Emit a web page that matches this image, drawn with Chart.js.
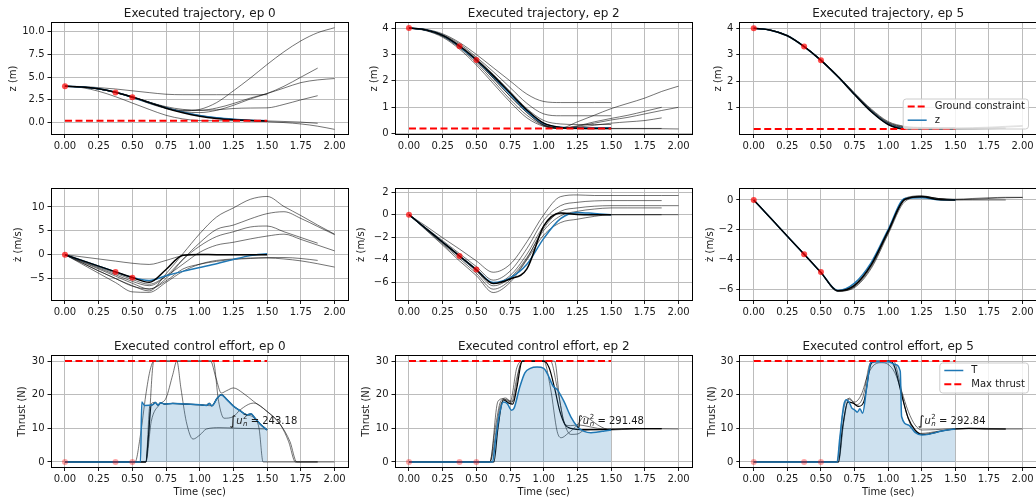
<!DOCTYPE html>
<html>
<head>
<meta charset="utf-8">
<script src="https://cdn.jsdelivr.net/npm/chart.js@4.4.0/dist/chart.umd.min.js"></script>
<style>
  html, body { margin: 0; padding: 0; background: #fff; }
  body { position: relative; width: 1036px; height: 498px; overflow: hidden; }
  .panel { position: absolute; }
</style>
</head>
<body>
<script>
// shared time grid for the state plots (s)
const TIME = [0, 0.125, 0.25, 0.375, 0.5, 0.625, 0.75, 0.875, 1.0, 1.125, 1.25, 1.375, 1.5, 1.625, 1.75, 1.875, 2.0];
const X_TICKS = [0, 0.25, 0.5, 0.75, 1.0, 1.25, 1.5, 1.75, 2.0];
const EPISODES = [0, 2, 5];

// observed key points (red dots)
const KEY_T = [0, 0.375, 0.5];
const KEY_Z = [4.0, 3.31, 2.79];
const KEY_ZDOT = [0, -3.65, -4.85];
const KEY_THRUST = [0, 0, 0];

// constraint lines
const LIMIT_T = [0, 1.5];
const GROUND_Z = [0.2, 0.2];
const MAX_THRUST = [30, 30];

const INTEGRALS = [243.18, 291.48, 292.84];

const Z_TICKS = [[0, 2.5, 5, 7.5, 10], [0, 1, 2, 3, 4], [1, 2, 3, 4]];
const ZDOT_TICKS = [[-5, 0, 5, 10], [-6, -4, -2, 0, 2], [-6, -4, -2, 0]];
const THRUST_TICKS = [0, 10, 20, 30];

// ---- z (m), ep 0 ----
const z0Blue = [4.0, 3.93, 3.72, 3.33, 2.78, 2.18, 1.62, 1.15, 0.78, 0.52, 0.36, 0.26, 0.2];
const z0Black = [4.0, 3.93, 3.72, 3.34, 2.8, 2.2, 1.58, 1.08, 0.7, 0.45, 0.3, 0.22, 0.18];
const z0Gray = [
  [4.0, 3.92, 3.7, 3.3, 2.75, 2.1, 1.55, 1.3, 1.45, 2.2, 3.5, 4.9, 6.4, 7.8, 9.0, 9.9, 10.45],
  [4.0, 3.92, 3.7, 3.32, 2.8, 2.2, 1.6, 1.2, 1.1, 1.35, 1.9, 2.6, 3.2, 4.0, 5.0, 6.0],
  [4.0, 3.92, 3.7, 3.32, 2.8, 2.2, 1.65, 1.35, 1.35, 1.6, 2.1, 2.7, 3.2, 3.8, 4.4, 4.7, 4.85],
  [4.0, 3.92, 3.7, 3.32, 2.8, 2.25, 1.75, 1.45, 1.35, 1.4, 1.55, 1.6, 1.62, 2.0, 2.5, 2.96],
  [4.0, 3.97, 3.85, 3.7, 3.5, 3.3, 3.12, 3.07, 3.07, 3.07, 3.07, 3.07, 3.07],
  [4.0, 3.85, 3.45, 2.85, 2.15, 1.45, 0.8, 0.4, 0.22, 0.2, 0.2, 0.2, 0.2],
  [4.0, 3.92, 3.72, 3.35, 2.85, 2.25, 1.65, 1.15, 0.75, 0.5, 0.35, 0.2, 0.1, 0.0, -0.15, -0.4, -0.75],
  [4.0, 3.92, 3.72, 3.35, 2.85, 2.25, 1.65, 1.15, 0.78, 0.52, 0.36, 0.25, 0.18, 0.12, 0.05, -0.08]
];

// ---- z (m), ep 2 ----
const z2Blue = [4.0, 3.93, 3.72, 3.3, 2.78, 2.17, 1.5, 0.85, 0.38, 0.25, 0.23, 0.23, 0.23];
const z2Black = [4.0, 3.93, 3.72, 3.32, 2.8, 2.2, 1.55, 0.9, 0.4, 0.24, 0.21, 0.2, 0.2];
const z2Gray = [
  [4.0, 3.95, 3.78, 3.45, 3.0, 2.5, 2.0, 1.5, 1.22, 1.18, 1.18, 1.18, 1.18],
  [4.0, 3.94, 3.75, 3.4, 2.9, 2.35, 1.75, 1.15, 0.75, 0.68, 0.68, 0.68, 0.68],
  [4.0, 3.93, 3.73, 3.35, 2.85, 2.25, 1.6, 0.95, 0.5, 0.37, 0.35, 0.35, 0.35],
  [4.0, 3.93, 3.72, 3.3, 2.78, 2.15, 1.5, 0.85, 0.35, 0.22, 0.45, 0.7, 0.95, 1.15, 1.35, 1.6, 1.8],
  [4.0, 3.93, 3.72, 3.3, 2.78, 2.15, 1.5, 0.85, 0.35, 0.22, 0.3, 0.45, 0.58, 0.7, 0.85, 1.0],
  [4.0, 3.92, 3.7, 3.28, 2.75, 2.1, 1.42, 0.8, 0.32, 0.2, 0.28, 0.4, 0.52, 0.62, 0.75, 0.88, 1.0],
  [4.0, 3.92, 3.7, 3.28, 2.75, 2.1, 1.42, 0.8, 0.32, 0.2, 0.25, 0.32, 0.4, 0.45, 0.5, 0.6],
  [4.0, 3.9, 3.65, 3.2, 2.6, 1.9, 1.2, 0.6, 0.28, 0.2, 0.19, 0.19, 0.19, 0.19, 0.19, 0.19, 0.18],
  [4.0, 3.91, 3.68, 3.25, 2.68, 2.0, 1.3, 0.7, 0.3, 0.2, 0.2, 0.2, 0.2, 0.2, 0.2, 0.2]
];

// ---- z (m), ep 5 ----
const z5Blue = [4.0, 3.93, 3.72, 3.31, 2.79, 2.18, 1.5, 0.86, 0.38, 0.21, 0.2, 0.2, 0.2];
const z5Black = [4.0, 3.93, 3.72, 3.31, 2.79, 2.18, 1.5, 0.85, 0.37, 0.2, 0.2, 0.2, 0.2];
const z5Gray = [
  [4.0, 3.93, 3.72, 3.32, 2.81, 2.21, 1.54, 0.92, 0.45, 0.28, 0.25, 0.24, 0.24, 0.25, 0.27, 0.3, 0.33],
  [4.0, 3.93, 3.72, 3.32, 2.8, 2.2, 1.53, 0.9, 0.43, 0.26, 0.23, 0.22, 0.22, 0.22, 0.23, 0.24],
  [4.0, 3.93, 3.72, 3.31, 2.8, 2.19, 1.52, 0.89, 0.41, 0.24, 0.22, 0.21, 0.21, 0.22, 0.24, 0.27, 0.3],
  [4.0, 3.93, 3.72, 3.31, 2.79, 2.19, 1.51, 0.88, 0.4, 0.23, 0.21, 0.2, 0.2, 0.2, 0.21, 0.22],
  [4.0, 3.93, 3.72, 3.32, 2.81, 2.22, 1.56, 0.95, 0.48, 0.3, 0.26, 0.25, 0.25]
];

// ---- z dot (m/s), ep 0 ----
const v0Blue = [0, -1.2, -2.4, -3.6, -4.8, -5.4, -4.4, -3.5, -2.7, -1.9, -1.0, -0.2, 0.2];
const v0Black = [0, -1.2, -2.4, -3.6, -4.8, -5.8, -3.1, -0.1, 0.05, 0.0, 0.0, 0.0, 0.0];
const v0Gray = [
  [0, -1.7, -3.4, -5.0, -6.5, -7.6, -4.0, 0.2, 4.4, 7.9, 9.8, 11.6, 12.2, 10.1, 8.2, 6.2, 4.3],
  [0, -1.5, -3.0, -4.5, -6.0, -7.2, -5.0, -1.0, 2.5, 5.3, 6.2, 7.5, 8.6, 9.0, 7.6, 5.9, 4.2],
  [0, -1.4, -2.8, -4.2, -5.6, -6.5, -4.5, -1.0, 1.8, 3.8, 4.8, 5.8, 6.0, 4.8, 3.6, 2.4],
  [0, -1.3, -2.6, -3.9, -5.2, -6.2, -4.5, -2.0, 0.5, 2.0, 2.6, 3.3, 3.9, 4.3, 3.2, 2.0, 0.8],
  [0, -0.45, -0.9, -1.35, -1.8, -2.05, -1.2, -0.2, 0.0, 0.0, 0.0, 0.0, 0.0],
  [0, -1.95, -3.9, -5.85, -7.8, -7.9, -5.8, -3.5, -2.0, -1.2, -0.9, -0.7, -0.7, -0.9, -1.3, -1.9, -2.6],
  [0, -1.7, -3.4, -5.0, -6.6, -7.2, -5.5, -3.0, -2.0, -1.4, -1.0, -0.8, -0.6, -0.6, -0.8, -1.2]
];

// ---- z dot (m/s), ep 2 ----
const v2Blue = [0, -1.22, -2.44, -3.66, -4.88, -6.0, -5.6, -4.4, -2.1, -0.35, 0.2, 0.1, 0.0];
const v2Black = [0, -1.22, -2.44, -3.66, -4.88, -6.1, -5.7, -4.8, -1.0, 0.15, 0.02, 0.0, 0.0];
const v2Gray = [
  [0, -1.0, -2.05, -3.05, -4.1, -5.1, -4.4, -2.4, 0.0, 1.6, 1.75, 1.7, 1.7, 1.7, 1.7, 1.7, 1.7],
  [0, -1.15, -2.3, -3.45, -4.6, -5.8, -5.0, -3.0, -0.5, 0.8, 1.1, 1.22, 1.25, 1.25, 1.25, 1.25],
  [0, -1.2, -2.4, -3.6, -4.8, -6.1, -5.4, -3.5, -1.0, 0.3, 0.6, 0.75, 0.8, 0.8, 0.8, 0.8, 0.8],
  [0, -1.25, -2.5, -3.75, -5.0, -6.3, -5.6, -3.8, -1.4, -0.1, 0.3, 0.5, 0.6, 0.6, 0.6, 0.6],
  [0, -1.35, -2.7, -4.1, -5.4, -6.9, -6.0, -4.0, -1.8, -0.7, -0.4, -0.15, 0.0, 0.0, 0.0, 0.0, 0.0],
  [0, -1.3, -2.6, -3.9, -5.2, -6.6, -5.8, -3.9, -1.2, 0.15, 0.05, 0.0, 0.0, 0.0, 0.0, 0.0]
];

// ---- z dot (m/s), ep 5 ----
const v5Blue = [0, -1.22, -2.44, -3.66, -4.88, -6.1, -5.6, -4.2, -2.0, 0.1, 0.15, 0.02, 0.0];
const v5Black = [0, -1.22, -2.44, -3.66, -4.88, -6.12, -5.75, -4.35, -2.1, 0.05, 0.22, 0.03, 0.0];
const v5Gray = [
  [0, -1.22, -2.44, -3.67, -4.9, -6.15, -5.85, -4.5, -2.2, 0.0, 0.25, 0.1, 0.05, 0.1, 0.15, 0.18, 0.18],
  [0, -1.22, -2.44, -3.66, -4.89, -6.13, -5.8, -4.4, -2.15, 0.05, 0.25, 0.08, 0.0, 0.0, 0.0, 0.0],
  [0, -1.22, -2.44, -3.66, -4.88, -6.1, -5.7, -4.3, -2.05, 0.12, 0.28, 0.08, 0.02, 0.05, 0.1, 0.15, 0.17],
  [0, -1.22, -2.44, -3.66, -4.89, -6.14, -5.9, -4.6, -2.3, -0.1, 0.2, 0.1, 0.02]
];

// ---- thrust (N), [t, value] pairs ----
const u0Blue = [[0, 0], [0.56, 0], [0.57, 17.8], [0.59, 16.8], [0.65, 17.0], [0.67, 17.7], [0.69, 16.9], [0.71, 17.6], [0.74, 17.2], [0.8, 17.4], [0.9, 17.2], [1.0, 17.0], [1.05, 16.8], [1.07, 17.4], [1.09, 16.7], [1.13, 19.0], [1.16, 20.0], [1.2, 18.6], [1.25, 16.6], [1.3, 15.2], [1.35, 14.0], [1.38, 14.3], [1.41, 13.0], [1.45, 11.2], [1.5, 9.5]];
const u0Black = [[0, 0], [0.6, 0], [0.62, 8], [0.64, 16.9], [0.65, 17.0], [0.67, 17.7], [0.69, 16.9], [0.71, 17.6], [0.74, 17.2], [0.8, 17.4], [0.9, 17.2], [1.0, 17.0], [1.05, 16.8], [1.07, 17.4], [1.09, 16.7], [1.13, 19.0], [1.16, 20.0], [1.2, 18.6], [1.25, 16.6], [1.3, 15.2], [1.35, 14.0], [1.38, 14.3], [1.41, 13.0], [1.45, 11.2], [1.5, 9.5]];
const u0Gray = [
  [[0, 0], [0.52, 0], [0.56, 8], [0.6, 20], [0.63, 27], [0.66, 30], [1.08, 30], [1.12, 25], [1.16, 20.5], [1.2, 21.2], [1.25, 22], [1.32, 20.5], [1.4, 18], [1.5, 15], [1.6, 11], [1.67, 6], [1.72, 0], [2.0, 0]],
  [[0, 0], [0.6, 0], [0.64, 12], [0.7, 17], [0.75, 19], [0.8, 26], [0.83, 30], [0.86, 22], [0.9, 12], [0.95, 6.8], [1.0, 8], [1.05, 9.8], [1.15, 10.2], [1.3, 10], [1.5, 9.8]],
  [[0, 0], [0.6, 0], [0.66, 30], [1.1, 30], [1.14, 18], [1.18, 13], [1.25, 13.5], [1.3, 15.5], [1.4, 17.5], [1.5, 15], [1.6, 11], [1.66, 6], [1.71, 0], [1.875, 0]],
  [[0, 0], [0.6, 0], [0.63, 16.8], [0.67, 17.7], [0.69, 16.9], [0.71, 17.6], [0.74, 17.2], [0.8, 17.4], [0.9, 17.2], [1.0, 17.0], [1.05, 16.8], [1.09, 16.7], [1.13, 19.0], [1.16, 20.0], [1.2, 18.6], [1.25, 16.6], [1.3, 15.2], [1.35, 14.0], [1.4, 13.2], [1.44, 10], [1.47, 0], [1.875, 0]]
];

const u2Blue = [[0, 0], [0.62, 0], [0.64, 6], [0.67, 14], [0.7, 17.8], [0.73, 17.3], [0.76, 15.4], [0.78, 16], [0.82, 22], [0.86, 26.5], [0.9, 27.8], [0.95, 28.2], [1.0, 27.8], [1.03, 26], [1.07, 22.5], [1.1, 21.5], [1.15, 18], [1.2, 13.5], [1.25, 10.5], [1.3, 9.1], [1.35, 8.7], [1.4, 8.9], [1.45, 9.2], [1.5, 9.5]];
const u2Black = [[0, 0], [0.63, 0], [0.66, 10], [0.7, 18.5], [0.74, 17.5], [0.77, 17.2], [0.8, 22], [0.84, 30], [1.0, 30], [1.04, 28], [1.08, 22], [1.12, 15], [1.16, 11], [1.2, 10], [1.3, 9.6], [1.5, 9.7], [1.7, 9.9], [1.875, 9.9]];
const u2Gray = [
  [[0, 0], [0.6, 0], [0.64, 10], [0.68, 18], [0.72, 19], [0.76, 17.5], [0.8, 25], [0.84, 30], [1.05, 30], [1.1, 22], [1.15, 12], [1.2, 8.2], [1.25, 8.3], [1.3, 9.4], [1.4, 9.6], [1.6, 9.9], [1.8, 9.9], [2.0, 9.8]],
  [[0, 0], [0.6, 0], [0.66, 18], [0.7, 18.8], [0.75, 17.8], [0.8, 28], [0.84, 30], [1.08, 30], [1.12, 18], [1.16, 11], [1.2, 10.8], [1.25, 11], [1.3, 10.8], [1.4, 10], [1.5, 9.7]],
  [[0, 0], [0.6, 0], [0.68, 17], [0.72, 18.5], [0.77, 18], [0.82, 28], [0.85, 30], [1.0, 30], [1.05, 22], [1.1, 9], [1.13, 7.2], [1.18, 8.5], [1.25, 11], [1.3, 13.5], [1.35, 12.5], [1.4, 11], [1.5, 9.5], [1.65, 9.8], [1.875, 9.9]]
];

const u5Blue = [[0, 0], [0.62, 0], [0.64, 7], [0.67, 17], [0.69, 18.5], [0.71, 17.8], [0.73, 16], [0.75, 15.5], [0.77, 14.8], [0.79, 15.8], [0.81, 14.5], [0.84, 22], [0.87, 29.5], [0.9, 29.8], [1.0, 29.8], [1.05, 29], [1.09, 27], [1.1, 13.5], [1.15, 11], [1.2, 8.8], [1.25, 8.0], [1.3, 8.2], [1.4, 9.2], [1.5, 9.8]];
const u5Black = [[0, 0], [0.63, 0], [0.66, 10], [0.7, 17.8], [0.74, 17.5], [0.78, 16.5], [0.82, 18], [0.87, 29], [0.9, 30], [1.02, 30], [1.05, 28], [1.1, 20], [1.15, 13], [1.2, 9.5], [1.25, 8.2], [1.3, 8.3], [1.4, 9.2], [1.5, 9.8], [1.6, 10], [1.75, 9.8], [1.875, 9.8]];
const u5Gray = [
  [[0, 0], [0.62, 0], [0.66, 14], [0.7, 18.8], [0.75, 17.8], [0.8, 20], [0.85, 26], [0.9, 29], [0.95, 29.5], [1.0, 29], [1.05, 26.5], [1.1, 21], [1.15, 15], [1.2, 11], [1.25, 9.5], [1.35, 9.6], [1.5, 9.9], [1.75, 9.8], [2.0, 9.8]],
  [[0, 0], [0.63, 0], [0.67, 12], [0.71, 19], [0.76, 17], [0.81, 19], [0.87, 29.5], [1.04, 30], [1.08, 25], [1.12, 17], [1.18, 10], [1.25, 8.5], [1.35, 9.0], [1.5, 9.8], [1.7, 10], [1.875, 9.8]]
];

// layout of the 3x3 grid (page px)
const COL_LEFT = [51.5, 395.5, 740.3];
const PLOT_W = 297.6;
const ROW_TOP = [23, 189.3, 356];
const ROW_H = [110.3, 110.7, 110.7];
const X_AXIS_H = [16, 16, 34];
const TITLE_H = 16.7;
const Y_AXIS_W = 50;

const BLUE = '#1f77b4';
const GRAY = 'rgba(0,0,0,0.55)';

Chart.defaults.font.family = '"DejaVu Sans", sans-serif';
Chart.defaults.font.size = 10;
Chart.defaults.color = '#1a1a1a';
Chart.defaults.animation = false;

const onGrid = vals => vals.map((v, i) => ({ x: TIME[i], y: v }));
const onPairs = pairs => pairs.map(([x, y]) => ({ x, y }));
const minus = s => s.replace('-', '\u2212');

const panels = [
  { row: 0, col: 0, title: 'Executed trajectory, ep ' + EPISODES[0], ylabel: 'z (m)', yMin: -1.26, yMax: 10.97, yTicks: Z_TICKS[0], dec: 1, labelOff: 38.2,
    blue: z0Blue, black: z0Black, gray: z0Gray, key: KEY_Z, limit: GROUND_Z },
  { row: 0, col: 1, title: 'Executed trajectory, ep ' + EPISODES[1], ylabel: 'z (m)', yMin: -0.01, yMax: 4.19, yTicks: Z_TICKS[1], dec: 0, labelOff: 21.5,
    blue: z2Blue, black: z2Black, gray: z2Gray, key: KEY_Z, limit: GROUND_Z },
  { row: 0, col: 2, title: 'Executed trajectory, ep ' + EPISODES[2], ylabel: 'z (m)', yMin: 0.01, yMax: 4.2, yTicks: Z_TICKS[2], dec: 0, labelOff: 22,
    blue: z5Blue, black: z5Black, gray: z5Gray, key: KEY_Z, limit: GROUND_Z,
    legend: [{ label: 'Ground constraint', color: '#ff0000', dash: true }, { label: 'z', color: BLUE }], legendAt: 'lower' },
  { row: 1, col: 0, ylabel: '\u017C (m/s)', yMin: -9.5, yMax: 13.7, yTicks: ZDOT_TICKS[0], dec: 0, labelOff: 32.7,
    blue: v0Blue, black: v0Black, gray: v0Gray, key: KEY_ZDOT },
  { row: 1, col: 1, ylabel: '\u017C (m/s)', yMin: -7.56, yMax: 2.25, yTicks: ZDOT_TICKS[1], dec: 0, labelOff: 33.8,
    blue: v2Blue, black: v2Black, gray: v2Gray, key: KEY_ZDOT },
  { row: 1, col: 2, ylabel: '\u017C (m/s)', yMin: -6.74, yMax: 0.72, yTicks: ZDOT_TICKS[2], dec: 0, labelOff: 30.3,
    blue: v5Blue, black: v5Black, gray: v5Gray, key: KEY_ZDOT },
  { row: 2, col: 0, title: 'Executed control effort, ep ' + EPISODES[0], ylabel: 'Thrust (N)', yMin: -1.5, yMax: 31.5, yTicks: THRUST_TICKS, dec: 0, labelOff: 29.3,
    blue: u0Blue, black: u0Black, gray: u0Gray, key: KEY_THRUST, limit: MAX_THRUST, integral: INTEGRALS[0], notePos: [1.22, 12.2] },
  { row: 2, col: 1, title: 'Executed control effort, ep ' + EPISODES[1], ylabel: 'Thrust (N)', yMin: -1.5, yMax: 31.5, yTicks: THRUST_TICKS, dec: 0, labelOff: 28.8,
    blue: u2Blue, black: u2Black, gray: u2Gray, key: KEY_THRUST, limit: MAX_THRUST, integral: INTEGRALS[1], notePos: [1.24, 12.2] },
  { row: 2, col: 2, title: 'Executed control effort, ep ' + EPISODES[2], ylabel: 'Thrust (N)', yMin: -1.5, yMax: 31.5, yTicks: THRUST_TICKS, dec: 0, labelOff: 28.1,
    blue: u5Blue, black: u5Black, gray: u5Gray, key: KEY_THRUST, limit: MAX_THRUST, integral: INTEGRALS[2], notePos: [1.22, 12.2],
    legend: [{ label: 'T', color: BLUE }, { label: 'Max thrust', color: '#ff0000', dash: true }], legendAt: 'upper' }
];

function drawLegend(chart, items, where) {
  const { ctx, chartArea: a } = chart;
  ctx.save();
  ctx.font = '10px "DejaVu Sans"';
  const textW = Math.max(...items.map(it => ctx.measureText(it.label).width));
  const w = 31.5 + textW + 3.5;
  const h = 30;
  const x = a.right - 7.5 - w;
  const y = where === 'lower' ? a.bottom - 5 - h : a.top + 7;
  ctx.beginPath();
  ctx.roundRect(x, y, w, h, 3);
  ctx.fillStyle = 'rgba(255,255,255,0.8)';
  ctx.fill();
  ctx.strokeStyle = '#cccccc';
  ctx.lineWidth = 1;
  ctx.stroke();
  items.forEach((it, i) => {
    const ly = y + 7.5 + i * 13.7;
    ctx.beginPath();
    ctx.setLineDash(it.dash ? [7, 3] : []);
    ctx.strokeStyle = it.color;
    ctx.lineWidth = it.dash ? 2 : 1.5;
    ctx.moveTo(x + 4.5, ly);
    ctx.lineTo(x + 23.5, ly);
    ctx.stroke();
    ctx.setLineDash([]);
    ctx.fillStyle = '#1a1a1a';
    ctx.textBaseline = 'middle';
    ctx.fillText(it.label, x + 31.5, ly);
  });
  ctx.restore();
}

function drawIntegral(chart, pos, value) {
  const { ctx, scales } = chart;
  let px = scales.x.getPixelForValue(pos[0]);
  const py = scales.y.getPixelForValue(pos[1]);
  ctx.save();
  ctx.fillStyle = '#1a1a1a';
  ctx.textBaseline = 'middle';
  ctx.font = '13px "DejaVu Sans"';
  ctx.fillText('\u222B', px, py + 0.5);
  px += ctx.measureText('\u222B').width;
  ctx.font = 'italic 10px "DejaVu Sans"';
  ctx.fillText('u', px, py);
  px += ctx.measureText('u').width;
  ctx.font = '7px "DejaVu Sans"';
  ctx.fillText('2', px + 0.5, py - 4);
  ctx.font = 'italic 7px "DejaVu Sans"';
  ctx.fillText('n', px + 0.5, py + 3.5);
  px += 5;
  ctx.font = '10px "DejaVu Sans"';
  ctx.fillText(' = ' + value.toFixed(2), px, py);
  ctx.restore();
}

function decor(p) {
  return {
    id: 'decor',
    afterDatasetsDraw(chart) {
      const { ctx, chartArea: a } = chart;
      ctx.save();
      ctx.strokeStyle = '#000';
      ctx.lineWidth = 1;
      const L = Math.round(a.left) - 0.5, T = Math.round(a.top) - 0.5;
      const R = Math.round(a.right) + 0.5, B = Math.round(a.bottom) + 0.5;
      ctx.strokeRect(L, T, R - L, B - T);
      ctx.restore();
      if (p.integral != null) drawIntegral(chart, p.notePos, p.integral);
      if (p.legend) drawLegend(chart, p.legend, p.legendAt);
    }
  };
}

function makeChart(p) {
  const plotLeft = COL_LEFT[p.col], plotTop = ROW_TOP[p.row];
  const plotH = ROW_H[p.row], xH = X_AXIS_H[p.row];
  const hasTitle = !!p.title;
  const boxLeft = Math.floor(plotLeft - Y_AXIS_W);
  const yW = plotLeft - boxLeft;
  const boxTop = Math.floor(plotTop - TITLE_H);
  const padTop = plotTop - boxTop - (hasTitle ? TITLE_H : 0);
  const boxW = Math.ceil(yW + PLOT_W + 2);
  const boxH = Math.ceil(plotTop - boxTop + plotH + xH);

  const div = document.createElement('div');
  div.className = 'panel';
  div.style.left = boxLeft + 'px';
  div.style.top = boxTop + 'px';
  div.style.width = boxW + 'px';
  div.style.height = boxH + 'px';
  const canvas = document.createElement('canvas');
  div.appendChild(canvas);
  document.body.appendChild(div);

  const isThrust = p.row === 2;
  const pts = isThrust ? onPairs : onGrid;
  const line = { pointRadius: 0, fill: false, cubicInterpolationMode: 'monotone' };

  const datasets = [];
  datasets.push({
    label: 'key', data: KEY_T.map((t, i) => ({ x: t, y: p.key[i] })), showLine: false,
    pointRadius: 3, pointBorderWidth: 0,
    pointBackgroundColor: isThrust ? 'rgba(255,0,0,0.35)' : 'rgba(255,0,0,0.7)'
  });
  if (p.limit) {
    datasets.push({
      ...line, label: isThrust ? 'Max thrust' : 'Ground constraint',
      data: LIMIT_T.map((t, i) => ({ x: t, y: p.limit[i] })),
      borderColor: '#ff0000', borderWidth: 2, borderDash: [7, 3.5]
    });
  }
  const blueSet = {
    ...line, label: isThrust ? 'T' : 'z', data: pts(p.blue), borderColor: BLUE, borderWidth: 1.5,
    fill: isThrust ? 'origin' : false, backgroundColor: 'rgba(31,119,180,0.22)'
  };
  const blackSet = { ...line, label: 'plan', data: pts(p.black), borderColor: '#000', borderWidth: isThrust ? 1.2 : 1.5 };
  if (isThrust) datasets.push(blueSet, blackSet);
  else datasets.push(blackSet, blueSet);
  p.gray.forEach(g => datasets.push({ ...line, label: 'rollout', data: pts(g), borderColor: GRAY, borderWidth: 1 }));

  const grid = { color: '#bcbcbc', lineWidth: 1, tickColor: '#1a1a1a', tickLength: 4, tickWidth: 1, drawTicks: true };

  new Chart(canvas, {
    type: 'line',
    data: { datasets },
    options: {
      responsive: true,
      maintainAspectRatio: false,
      animation: false,
      layout: { padding: { top: padTop, left: 0, right: boxW - yW - PLOT_W, bottom: 0 } },
      plugins: {
        legend: { display: false },
        tooltip: { enabled: false },
        title: {
          display: hasTitle, text: p.title || '', fullSize: false, color: '#1a1a1a',
          font: { size: 12, weight: 'normal', lineHeight: 1.2 }, padding: { top: 0, bottom: 2.3 }
        }
      },
      scales: {
        x: {
          type: 'linear', min: -0.1, max: 2.1,
          afterBuildTicks: s => { s.ticks = X_TICKS.map(v => ({ value: v })); },
          afterFit: s => { s.height = xH; },
          ticks: { callback: v => v.toFixed(2), padding: 2, maxRotation: 0, autoSkip: false, includeBounds: false },
          grid, border: { display: false },
          title: isThrust
            ? { display: true, text: 'Time (sec)', font: { size: 10, lineHeight: 1.2 }, padding: { top: 0, bottom: xH - 6 - 25.6 } }
            : { display: false }
        },
        y: {
          type: 'linear', min: p.yMin, max: p.yMax,
          afterBuildTicks: s => { s.ticks = p.yTicks.map(v => ({ value: v })); },
          afterFit: s => { s.width = yW; },
          ticks: { callback: v => minus(v.toFixed(p.dec)), padding: 3, includeBounds: false },
          grid, border: { display: false },
          title: { display: true, text: p.ylabel, font: { size: 10, lineHeight: 1.2 }, padding: { top: yW - p.labelOff - 6, bottom: 0 } }
        }
      }
    },
    plugins: [decor(p)]
  });
}

panels.forEach(makeChart);
</script>
</body>
</html>
